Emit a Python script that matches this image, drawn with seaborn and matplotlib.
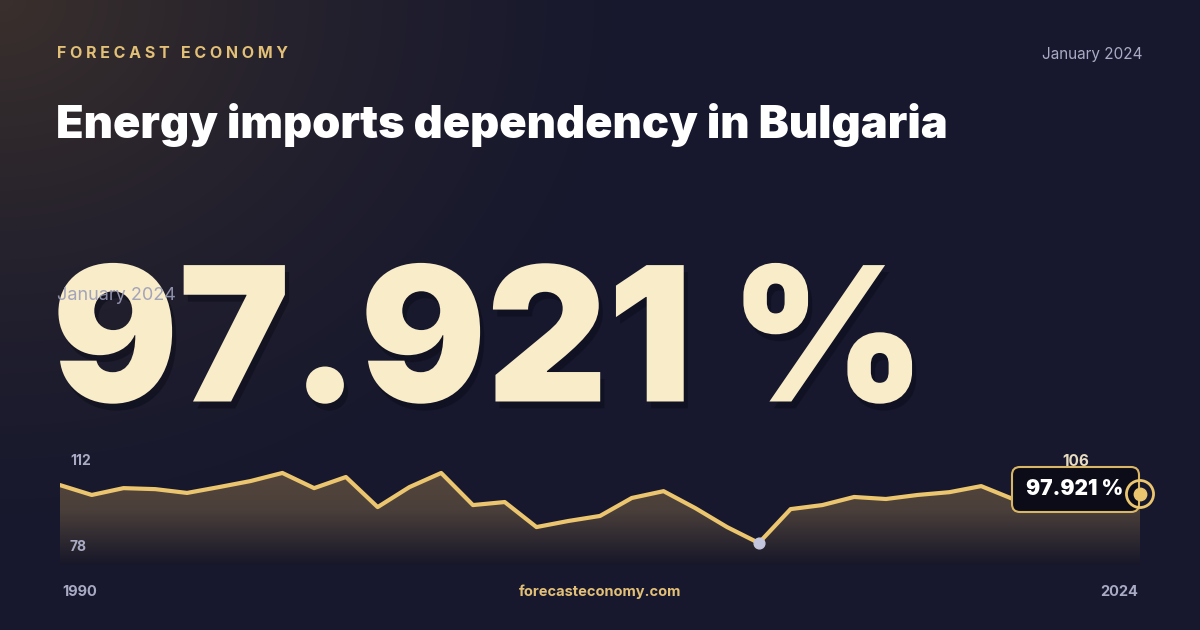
import numpy as np
import pandas as pd
import matplotlib
matplotlib.use("Agg")
import matplotlib.pyplot as plt
import seaborn as sns
from matplotlib.patches import FancyBboxPatch
import matplotlib.patheffects as pe

years = list(range(1990, 2025))
values = [102.5, 98.6, 101.3, 100.9, 99.4, 101.7, 104.1, 107.3, 101.3, 105.7,
          93.8, 101.7, 107.3, 94.6, 95.8, 85.9, 88.3, 90.3, 97.4, 100.1,
          93.4, 85.9, 79.6, 93.0, 94.6, 97.8, 97.0, 98.6, 99.7, 102.1,
          97.0, 97.5, 98.0, 97.5, 97.921]
y_ticks = [78, 112]
title = "Energy imports dependency in Bulgaria"
brand = "FORECAST ECONOMY"
date_label = "January 2024"
big_value = "97.921 %"

sns.set_theme(style="white")
plt.rcParams['font.family'] = ['Inter', 'DejaVu Sans']
df = pd.DataFrame({"year": years, "value": values})

fig = plt.figure(figsize=(12, 6.3), dpi=100)
bg = fig.add_axes([0, 0, 1, 1]); bg.set_axis_off()
yy, xx = np.mgrid[0:630, 0:1200]
d = np.sqrt((xx / 1200 * 1.6) ** 2 + (yy / 630) ** 2)
glow = np.clip(1 - d / 0.9, 0, 1) ** 1.5
base = np.array([0x17, 0x18, 0x2e]) / 255
warm = np.array([0x3a, 0x30, 0x2c]) / 255
img = base[None, None, :] * (1 - glow[..., None]) + warm[None, None, :] * glow[..., None]
bg.imshow(img, extent=[0, 1200, 630, 0], aspect='auto')
bg.set_xlim(0, 1200); bg.set_ylim(630, 0)

spaced = "   ".join(" ".join(list(w)) for w in brand.split(" "))
bg.text(57, 53, spaced, color="#e3c077", fontsize=11.5, fontweight="bold", va="center", ha="left")
bg.text(1143, 54, date_label, color="#a9abc4", fontsize=11, va="center", ha="right")
bg.text(56, 125, title, color="white", fontsize=32.5, fontweight="black", va="center", ha="left")
bg.text(52, 352, big_value, color="#f8ecc9", fontsize=135, fontweight="black", va="center", ha="left",
        path_effects=[pe.withSimplePatchShadow(offset=(3, -5), shadow_rgbFace="#0b0c18", alpha=0.5)])
bg.text(57, 295, date_label, color="#9a9cb8", fontsize=13, va="center", ha="left", alpha=0.9)

ax = fig.add_axes([60 / 1200, 1 - 565 / 630, 1080 / 1200, 110 / 630])
ax.set_facecolor("none")
ymin, ymax = 70.9, 114.4
ax.set_xlim(1990, 2024)
ax.set_axis_off()
poly = ax.fill_between(df.year, df.value, ymin, color="none")
grad = np.linspace(0, 1, 200)[:, None]
cmap = matplotlib.colors.LinearSegmentedColormap.from_list("g", ["#5a4a3e", "#4a3f3a", "#171729"])
im = ax.imshow(grad, extent=[1990, 2024, ymin, ymax], origin="upper", aspect='auto',
               cmap=cmap, zorder=1)
im.set_clip_path(poly.get_paths()[0], transform=ax.transData)
sns.lineplot(data=df, x="year", y="value", ax=ax, color="#ecc56f", lw=3, zorder=3)
ax.set_ylim(ymin, ymax); ax.set_xlim(1990, 2024)
imin = int(np.argmin(values))
ax.scatter([years[imin]], [values[imin]], s=60, color="#c3c6dc", zorder=4)
ax.set_xlabel(""); ax.set_ylabel("")

ov = fig.add_axes([0, 0, 1, 1]); ov.set_axis_off()
ov.set_xlim(0, 1200); ov.set_ylim(630, 0)
ov.text(70, 461, str(y_ticks[1]), color="#a9abc4", fontsize=10, fontweight="bold", va="center")
ov.text(70, 547, str(y_ticks[0]), color="#a9abc4", fontsize=10, fontweight="bold", va="center")
ov.text(62, 592, str(years[0]), color="#a9abc4", fontsize=10.5, fontweight="bold", va="center")
ov.text(1138, 592, str(years[-1]), color="#a9abc4", fontsize=10.5, fontweight="bold", va="center", ha="right")
ov.text(600, 592, "forecasteconomy.com", color="#e3c077", fontsize=10.5, fontweight="bold", va="center", ha="center")
ov.text(1076, 461, "106", color="#e8dcc0", fontsize=11, fontweight="bold", va="center", ha="center")
box = FancyBboxPatch((1012, 467), 127, 45, boxstyle="round,pad=0,rounding_size=8",
                     facecolor="#0b0c18", edgecolor="#d9b665", lw=1.5, zorder=6)
ov.add_patch(box)
ov.text(1075, 489, big_value, color="white", fontsize=15, fontweight="black", va="center", ha="center", zorder=7)
ov.scatter([1140], [494], s=80, color="#ecc56f", zorder=8)
ov.scatter([1140], [494], s=380, facecolor="none", edgecolor="#ecc56f", lw=2, zorder=8)

fig.savefig("out.png", dpi=100)
